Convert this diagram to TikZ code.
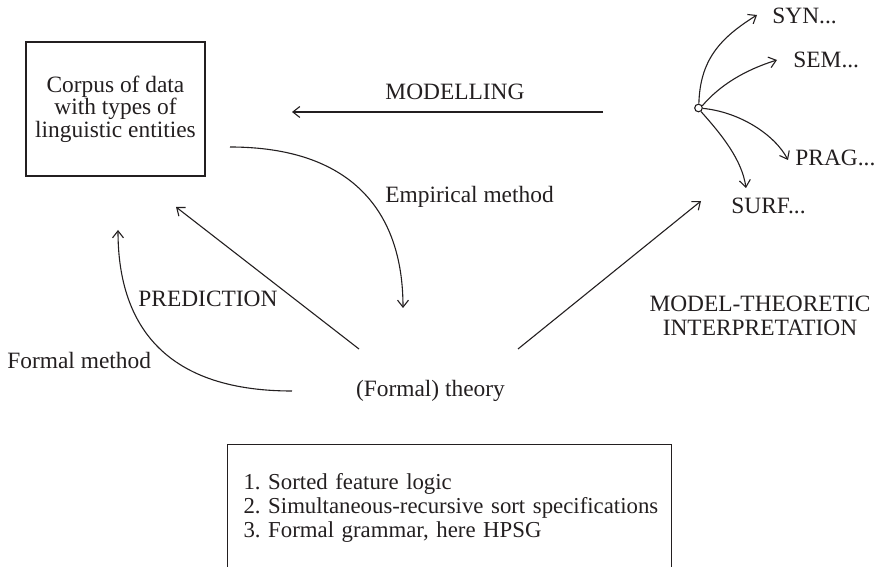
\documentclass[tikz,border=0pt]{standalone}
\usepackage{fontspec}
\setmainfont{Liberation Serif}
\usetikzlibrary{arrows.meta}
\definecolor{ink}{HTML}{231F20}
\frenchspacing
\begin{document}
\begin{tikzpicture}[x=0.5pt,y=-0.5pt,
  stroke/.style={draw=ink, line width=0.55pt},
  arr/.style={stroke, -{Straight Barb[length=3.5pt,width=5.5pt]}},
  lbl/.style={inner sep=0pt, text=ink, font=\fontsize{11.7}{12}\selectfont},
  hubdot/.style={circle, stroke, fill=white, inner sep=0pt, minimum size=3.8pt},
]
\useasboundingbox (0,0) rectangle (875,567);

% data corpus
\node (corpus) [lbl, stroke, align=center, minimum width=89.5pt, minimum height=67pt,
  font=\fontsize{11.7}{11.25}\selectfont] at (115.5,109)
  {Corpus of data\\with types of\\linguistic entities};

% theory and its labels
\node (theory) [lbl, anchor=base] at (430.5,397) {(Formal) theory};
\node (modelling) [lbl, anchor=base] at (455,100) {MODELLING};
\node (empirical) [lbl, anchor=base west] at (385,203) {Empirical method};
\node (prediction) [lbl, anchor=base west] at (138,307) {PREDICTION};
\node (formal) [lbl, anchor=base west] at (7,369) {Formal method};
\node (mti) [lbl, align=center, anchor=north] at (760,295.5) {MODEL-THEORETIC\\INTERPRETATION};

% model branches
\node (hub) [hubdot] at (698.5,108) {};
\node (syn) [lbl, anchor=base west] at (772,24) {SYN...};
\node (sem) [lbl, anchor=base west] at (793,68) {SEM...};
\node (prag) [lbl, anchor=base west] at (795,166) {PRAG...};
\node (surf) [lbl, anchor=base west] at (731,214) {SURF...};

% list of formal components
\node (spec) [lbl, stroke, anchor=north west, inner xsep=8pt, inner ysep=0pt,
  text width=206pt, minimum height=63pt, align=left,
  font=\fontsize{11.4}{12}\selectfont] at (227,444)
  {1. Sorted feature logic\\\mbox{2. Simultaneous-recursive sort specifications}\\3. Formal grammar, here HPSG};

% free ends of the connectors
\coordinate (modR) at (603,112);
\coordinate (modL) at (292,112);
\coordinate (empS) at (230,147);
\coordinate (empE) at (403,308);
\coordinate (forS) at (292,391);
\coordinate (forE) at (118,230);
\coordinate (preS) at (359,349);
\coordinate (preE) at (176,207);
\coordinate (mtiS) at (518,349);
\coordinate (mtiE) at (701,201);
\coordinate (synE) at (757,15);
\coordinate (semE) at (777,60);
\coordinate (pragE) at (788,160);
\coordinate (surfE) at (746,188);

\draw[arr] (modR) -- (modL);
\draw[arr] (empS) .. controls (350,147) and (403,210) .. (empE);
\draw[arr] (forS) .. controls (160,391) and (118,320) .. (forE);
\draw[arr] (preS) -- (preE);
\draw[arr] (mtiS) -- (mtiE);

\draw[arr] (hub.85) .. controls (700,60) and (720,38) .. (synE);
\draw[arr] (hub.30) .. controls (720,85) and (745,70) .. (semE);
\draw[arr] (hub.-5) .. controls (740,112) and (775,135) .. (pragE);
\draw[arr] (hub.-55) .. controls (722,135) and (742,160) .. (surfE);
\end{tikzpicture}
\end{document}
